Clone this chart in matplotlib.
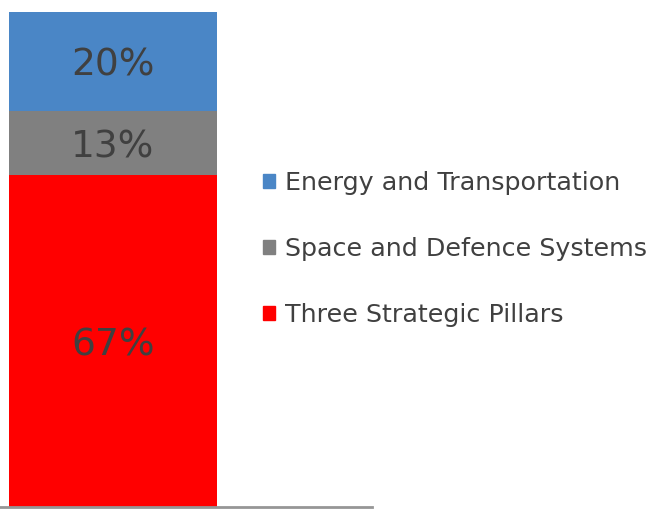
import matplotlib.pyplot as plt
from matplotlib.patches import Patch

# Share of revenue by segment (stacked bottom to top)
segments = ['Three Strategic Pillars', 'Space and Defence Systems', 'Energy and Transportation']
shares = [67, 13, 20]
colors = ['#ff0000', '#808080', '#4a86c6']

plt.rcParams['font.family'] = ['DejaVu Sans']

fig = plt.figure(figsize=(6.62, 5.09), dpi=100)
ax = fig.add_axes([0, 2 / 509, 372 / 662, 495 / 509])

bottom = 0
for name, val, col in zip(segments, shares, colors):
    ax.bar(0, val, width=1, bottom=bottom, color=col, label=name)
    ax.text(0, bottom + val / 2, f'{val}%', ha='center', va='center_baseline',
            fontsize=27, color='#404040')
    bottom += val

ax.set_xlim(-113 / 208, (372 - 113) / 208)
ax.set_ylim(0, 100)
for s in ['top', 'left', 'right']:
    ax.spines[s].set_visible(False)
ax.spines['bottom'].set_color('#969696')
ax.spines['bottom'].set_linewidth(2)
ax.set_xticks([])
ax.set_yticks([])

handles = [Patch(color=c, label=n) for n, c in zip(segments, colors)][::-1]
fig.legend(handles=handles, loc='upper left', bbox_to_anchor=(240 / 662, 1 - 148 / 509),
           frameon=False, fontsize=18.3, handlelength=0.48, handleheight=0.48,
           handletextpad=0.4, labelspacing=1.66, labelcolor='#404040')

fig.savefig('out.png', dpi=100)
